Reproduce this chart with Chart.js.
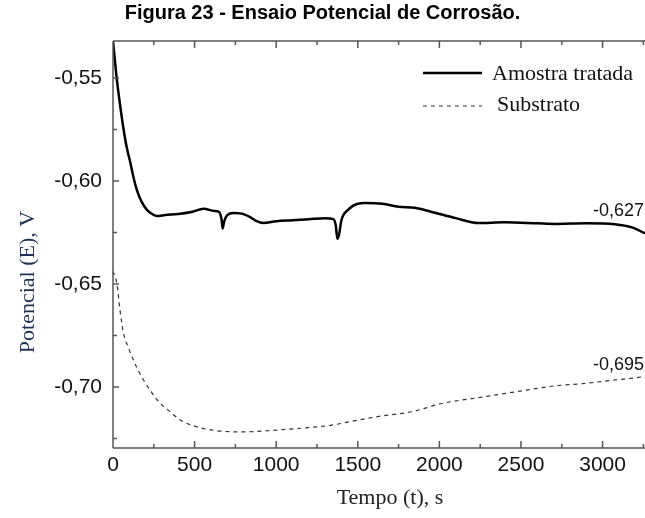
<!DOCTYPE html>
<html>
<head>
<meta charset="utf-8">
<script src="https://cdn.jsdelivr.net/npm/chart.js@4/dist/chart.umd.min.js"></script>
<style>
  body { margin: 0; background: #fff; }
  #wrap { width: 645px; height: 518px; }
</style>
</head>
<body>
<div id="wrap"><canvas id="potencial" width="645" height="518"></canvas></div>
<script>
// tempo (s) e potencial (V)
var tempoTratada = [0, 10, 24, 45, 65, 85, 106, 125, 147, 175, 208, 240, 270, 320, 400, 480, 555, 620, 650, 665, 672, 680, 700, 740, 790, 840, 880, 922, 1000, 1100, 1200, 1300, 1350, 1365, 1375, 1385, 1400, 1440, 1500, 1545, 1650, 1750, 1850, 1953, 2100, 2237, 2400, 2600, 2708, 2900, 3076, 3180, 3260];
var potTratada = [-0.532, -0.540, -0.551, -0.564, -0.575, -0.584, -0.591, -0.598, -0.6045, -0.610, -0.614, -0.616, -0.617, -0.6165, -0.616, -0.615, -0.6135, -0.6145, -0.615, -0.6185, -0.623, -0.620, -0.6165, -0.6155, -0.6158, -0.6175, -0.6195, -0.6204, -0.6195, -0.619, -0.6185, -0.618, -0.6185, -0.6215, -0.628, -0.626, -0.619, -0.614, -0.611, -0.6107, -0.611, -0.6125, -0.613, -0.615, -0.618, -0.6204, -0.620, -0.6205, -0.6208, -0.6205, -0.621, -0.6225, -0.6254];

var tempoSubstrato = [0, 24, 45, 65, 95, 126, 155, 188, 240, 290, 350, 412, 500, 616, 780, 983, 1150, 1331, 1504, 1650, 1831, 2015, 2260, 2525, 2700, 2872, 3050, 3239, 3260];
var potSubstrato = [-0.6437, -0.650, -0.664, -0.6741, -0.681, -0.687, -0.692, -0.6967, -0.703, -0.708, -0.712, -0.716, -0.719, -0.721, -0.7218, -0.721, -0.720, -0.7186, -0.716, -0.714, -0.712, -0.708, -0.7049, -0.7016, -0.6995, -0.6984, -0.6968, -0.6951, -0.6948];

// ticks: maiores com rótulo, menores sem
var ticksX = [0, 250, 500, 750, 1000, 1250, 1500, 1750, 2000, 2250, 2500, 2750, 3000, 3250];
var rotulosX = ['0', '', '500', '', '1000', '', '1500', '', '2000', '', '2500', '', '3000', ''];
var ticksY = [-0.725, -0.70, -0.675, -0.65, -0.625, -0.60, -0.575, -0.55];
var rotulosY = ['', '-0,70', '', '-0,65', '', '-0,60', '', '-0,55'];

var valoresFinais = ['-0,627', '-0,695'];

function pares(xs, ys) {
    return xs.map(function (x, i) { return { x: x, y: ys[i] }; });
}

var sans = "'Liberation Sans', Arial, sans-serif";
var serif = "'Liberation Serif', 'Times New Roman', serif";

// eixos com ticks para dentro, legenda e textos
var moldura = {
    id: 'moldura',
    afterDraw: function (chart) {
        var c = chart.ctx, a = chart.chartArea;
        var xs = chart.scales.x, ys = chart.scales.y;
        c.save();
        c.strokeStyle = '#555';
        c.lineWidth = 1.5;
        c.beginPath();
        c.moveTo(a.left, a.top); c.lineTo(a.right + 2, a.top);
        c.moveTo(a.left, a.top); c.lineTo(a.left, a.bottom);
        c.moveTo(a.left, a.bottom); c.lineTo(a.right + 2, a.bottom);
        ticksX.forEach(function (v, i) {
            var px = xs.getPixelForValue(v);
            var len = rotulosX[i] ? 7 : 4;
            c.moveTo(px, a.bottom); c.lineTo(px, a.bottom - len);
            c.moveTo(px, a.top); c.lineTo(px, a.top + len);
        });
        ticksY.forEach(function (v, i) {
            var py = ys.getPixelForValue(v);
            var len = rotulosY[i] ? 6 : 4;
            c.moveTo(a.left, py); c.lineTo(a.left + len, py);
        });
        c.stroke();

        // legenda
        c.strokeStyle = '#000';
        c.lineWidth = 2.5;
        c.beginPath(); c.moveTo(423, 73); c.lineTo(482, 73); c.stroke();
        c.strokeStyle = '#333';
        c.lineWidth = 1;
        c.setLineDash([4, 4]);
        c.beginPath(); c.moveTo(423, 106); c.lineTo(482, 106); c.stroke();
        c.setLineDash([]);
        c.fillStyle = '#111';
        c.font = '22px ' + serif;
        c.textBaseline = 'middle';
        c.textAlign = 'left';
        c.fillText('Amostra tratada', 492, 74);
        c.fillText('Substrato', 497, 105);

        // valores finais
        c.font = '18px ' + sans;
        c.textAlign = 'right';
        c.fillText(valoresFinais[0], 644, 211);
        c.fillText(valoresFinais[1], 644, 365);

        // títulos dos eixos
        c.textAlign = 'center';
        c.font = '22px ' + serif;
        c.fillStyle = '#222';
        c.fillText('Tempo (t), s', 390, 498);
        c.translate(28, 282);
        c.rotate(-Math.PI / 2);
        c.fillStyle = '#1f3050';
        c.fillText('Potencial (E), V', 0, 0);
        c.restore();
    }
};

var ctx = document.getElementById('potencial').getContext('2d');
var grafico = new Chart(ctx, {
    type: 'line',
    data: {
        datasets: [{
            label: 'Amostra tratada',
            data: pares(tempoTratada, potTratada),
            borderColor: '#000',
            borderWidth: 2.5,
            pointRadius: 0,
            cubicInterpolationMode: 'monotone'
        }, {
            label: 'Substrato',
            data: pares(tempoSubstrato, potSubstrato),
            borderColor: '#333',
            borderWidth: 1.2,
            borderDash: [4, 4],
            pointRadius: 0,
            cubicInterpolationMode: 'monotone'
        }]
    },
    options: {
        responsive: false,
        animation: false,
        layout: { padding: 0 },
        plugins: {
            legend: { display: false },
            tooltip: { enabled: false },
            title: {
                display: true,
                text: 'Figura 23 - Ensaio Potencial de Corrosão.',
                color: '#000',
                font: { family: sans, size: 20, weight: 'bold' },
                padding: { top: 1, bottom: 16 }
            }
        },
        scales: {
            x: {
                type: 'linear',
                min: 0,
                max: 3260,
                grid: { display: false, drawTicks: false },
                border: { display: false },
                afterBuildTicks: function (s) {
                    s.ticks = ticksX.map(function (v) { return { value: v }; });
                },
                ticks: {
                    autoSkip: false,
                    maxRotation: 0,
                    padding: 5,
                    color: '#111',
                    font: { family: sans, size: 21 },
                    callback: function (v, i) { return rotulosX[i]; }
                },
                afterFit: function (s) {
                    s.height = 70;
                    s.paddingLeft = 0;
                    s.paddingRight = 0;
                }
            },
            y: {
                min: -0.7296,
                max: -0.532,
                grid: { display: false, drawTicks: false },
                border: { display: false },
                afterBuildTicks: function (s) {
                    s.ticks = ticksY.map(function (v) { return { value: v }; });
                },
                ticks: {
                    autoSkip: false,
                    padding: 11,
                    color: '#111',
                    font: { family: sans, size: 21 },
                    callback: function (v, i) { return rotulosY[i]; }
                },
                afterFit: function (s) {
                    s.width = 113;
                    s.paddingTop = 0;
                    s.paddingBottom = 0;
                }
            }
        }
    },
    plugins: [moldura]
});
</script>
</body>
</html>
